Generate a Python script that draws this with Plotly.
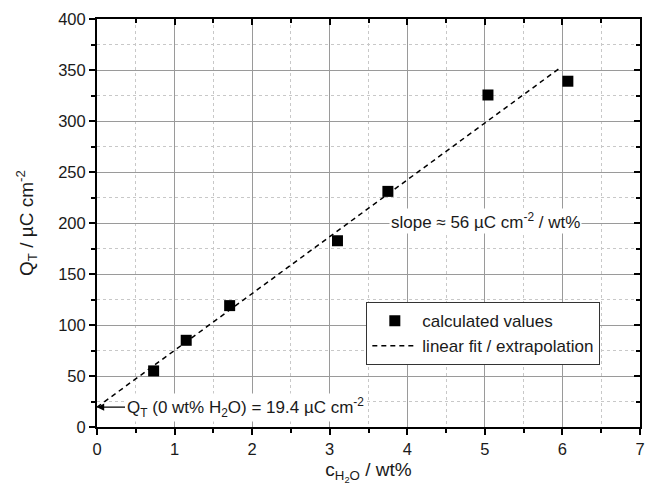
import plotly.graph_objects as go

# data
x_calc = [0.73, 1.15, 1.71, 3.10, 3.75, 5.04, 6.07]
y_calc = [55, 85, 119, 182.6, 231, 325.5, 339]
x_fit = [0.0, 5.95]
y_fit = [19.4, 351.0]

x_ticks = [0, 1, 2, 3, 4, 5, 6, 7]
y_ticks = [0, 50, 100, 150, 200, 250, 300, 350, 400]

FONT = "Liberation Sans, Arial, sans-serif"
TXT = "#1a1a1a"

fig = go.Figure()
fig.add_trace(go.Scatter(x=x_calc, y=y_calc, mode="markers", name="calculated values",
                         marker=dict(symbol="square", size=11, color="black")))
fig.add_trace(go.Scatter(x=x_fit, y=y_fit, mode="lines", name="linear fit / extrapolation",
                         line=dict(color="black", width=1.5, dash="5px,4px")))
# invisible trace to activate mirrored top/right axes
fig.add_trace(go.Scatter(x=[x_ticks[0]], y=[y_ticks[0]], xaxis="x2", yaxis="y2",
                         mode="markers", marker=dict(opacity=0), showlegend=False,
                         hoverinfo="skip"))

common = dict(showline=True, linewidth=2, linecolor="black", zeroline=False,
              tickfont=dict(family=FONT, size=16.5, color=TXT),
              ticklabeloverflow="allow")

fig.update_layout(
    width=647, height=489,
    margin=dict(l=97, r=2, t=19, b=62),
    plot_bgcolor="white", paper_bgcolor="white",
    font=dict(family=FONT, color=TXT),
    showlegend=True,
    legend=dict(x=0.496, y=0.306, xanchor="left", yanchor="top",
                bgcolor="white", bordercolor="#333", borderwidth=1,
                font=dict(family=FONT, size=17, color=TXT),
                tracegroupgap=0, itemwidth=45),
    xaxis=dict(range=[x_ticks[0], x_ticks[-1]], tickvals=x_ticks, ticks="outside",
               ticklen=6, tickwidth=2, tickcolor="black",
               showgrid=True, gridcolor="#9a9a9a", gridwidth=1,
               minor=dict(dtick=0.5, ticks="outside", ticklen=4, tickwidth=2,
                          tickcolor="black", showgrid=True, gridcolor="#c8c8c8",
                          griddash="dot", gridwidth=1),
               title=dict(text="c<sub>H<sub>2</sub>O</sub> / wt%",
                          font=dict(family=FONT, size=19, color=TXT), standoff=6),
               **common),
    yaxis=dict(range=[y_ticks[0], y_ticks[-1]], tickvals=y_ticks, ticks="outside",
               ticklen=6, tickwidth=2, tickcolor="black",
               showgrid=True, gridcolor="#9a9a9a", gridwidth=1,
               minor=dict(dtick=25, ticks="outside", ticklen=4, tickwidth=2,
                          tickcolor="black", showgrid=True, gridcolor="#c8c8c8",
                          griddash="dot", gridwidth=1),
               title=dict(text="Q<sub>T</sub> / µC cm<sup>-2</sup>",
                          font=dict(family=FONT, size=19, color=TXT), standoff=20),
               **common),
    xaxis2=dict(overlaying="x", side="top", anchor="y", matches="x",
                range=[x_ticks[0], x_ticks[-1]], tickvals=x_ticks,
                ticks="inside", ticklen=6, tickwidth=2, tickcolor="black",
                showticklabels=False, showgrid=False,
                minor=dict(dtick=0.5, ticks="inside", ticklen=4, tickwidth=2,
                           tickcolor="black", showgrid=False),
                showline=True, linewidth=2, linecolor="black", zeroline=False),
    yaxis2=dict(overlaying="y", side="right", anchor="x", matches="y",
                range=[y_ticks[0], y_ticks[-1]], tickvals=y_ticks,
                ticks="inside", ticklen=6, tickwidth=2, tickcolor="black",
                showticklabels=False, showgrid=False,
                minor=dict(dtick=25, ticks="inside", ticklen=4, tickwidth=2,
                           tickcolor="black", showgrid=False),
                showline=True, linewidth=2, linecolor="black", zeroline=False),
    annotations=[
        dict(x=5.01, y=202, xref="x", yref="y", showarrow=False,
             text="slope ≈ 56 µC cm<sup>-2</sup> / wt%", bgcolor="white",
             font=dict(family=FONT, size=17, color=TXT)),
        dict(x=x_fit[0], y=y_fit[0], xref="x", yref="y", showarrow=True,
             ax=28, ay=0, xanchor="left", arrowhead=2, arrowsize=1.2,
             arrowwidth=1.2, arrowcolor="black", bgcolor="white",
             text="Q<sub>T</sub> (0 wt% H<sub>2</sub>O) = 19.4 µC cm<sup>-2</sup>",
             font=dict(family=FONT, size=17, color=TXT)),
    ],
)

fig.write_html("out.html")
